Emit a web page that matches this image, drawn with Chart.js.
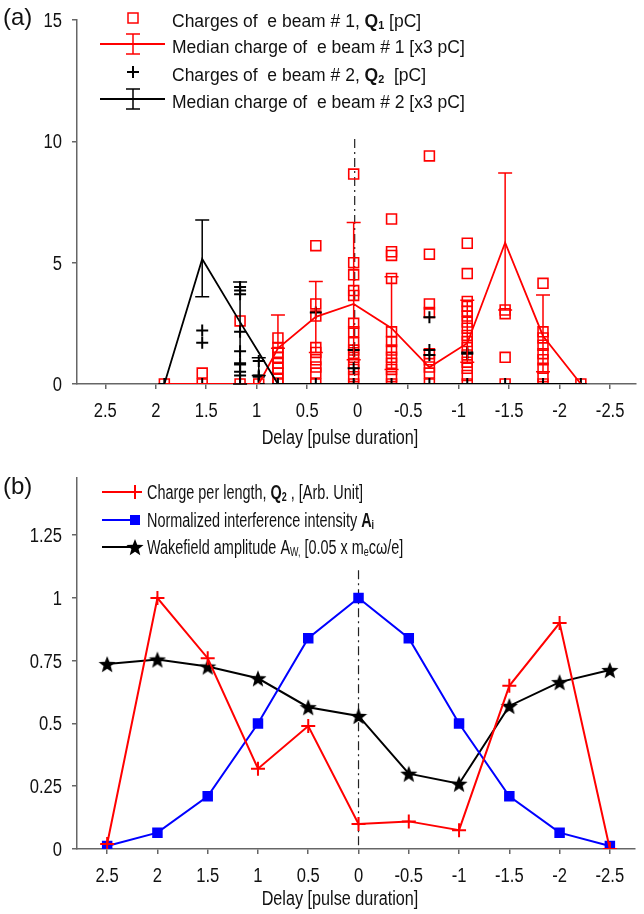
<!DOCTYPE html>
<html lang="en">
<head>
<meta charset="UTF-8">
<title>Charge and wakefield vs delay</title>
<script src="https://cdn.jsdelivr.net/npm/chart.js@4.4.0/dist/chart.umd.min.js"></script>
<style>
  body { margin: 0; background: #fff; }
  .panel { position: absolute; left: 0; width: 644px; }
  #pa { top: 0; height: 460px; }
  #pb { top: 460px; height: 454px; }
</style>
</head>
<body>
<div class="panel" id="pa"><canvas id="chartA"></canvas></div>
<div class="panel" id="pb"><canvas id="chartB"></canvas></div>
<script>
// ---- panel (a): shot clusters ----
const delayA = [1.915, 1.54, 1.165, 0.98, 0.79, 0.415, 0.04, -0.335, -0.71, -1.085, -1.46, -1.835, -2.21];
const q1 = [
  [0],
  [0.45, 0],
  [2.6, 0],
  [0],
  [1.9, 1.5, 1.3, 1.1, 0.85, 0.65, 0.45, 0.2, 0],
  [5.7, 3.3, 2.8, 1.5, 1.3, 1.0, 0.7, 0.45, 0],
  [8.65, 5.0, 4.5, 3.85, 3.65, 2.5, 2.15, 1.7, 1.4, 1.1, 0.85, 0.6, 0.3, 0],
  [6.8, 5.45, 5.3, 4.35, 2.15, 1.75, 1.4, 1.1, 0.85, 0.6, 0.3, 0],
  [9.4, 5.35, 3.3, 2.95, 1.25, 1.0, 0.7, 0.45, 0],
  [5.8, 4.55, 3.4, 3.2, 3.0, 2.8, 2.55, 2.3, 2.0, 1.75, 1.5, 1.2, 0.9, 0.65, 0.35, 0],
  [3.05, 2.9, 1.1, 0],
  [4.15, 2.15, 1.9, 1.6, 1.25, 1.0, 0.65, 0.3, 0],
  [0]
];
const q2 = [
  [0],
  [2.2, 1.7, 0],
  [4.0, 3.85, 3.7, 2.15, 1.35, 0.85, 0.8, 0.5, 0.35, 0],
  [0.95, 0.35, 0.3, 0],
  [0],
  [2.95, 0],
  [1.4, 0.65, 0],
  [0],
  [2.75, 1.4, 1.2, 0],
  [1.3, 1.25, 0],
  [0],
  [0],
  [0]
];
const med1   = [0, 0, 0, 0, 1.47, 2.77, 3.3, 2.3, 0.69, 1.68, 5.82, 1.98, 0];
const med1Lo = [null, null, null, null, 1.47, 1.3, 1.0, 0.6, null, 0.9, 3.05, 0.5, null];
const med1Hi = [null, null, null, null, 2.84, 4.22, 6.66, 4.42, null, 3.45, 8.7, 3.67, null];
const med2   = [0, 5.15, 2.55, 1.3, 0, 0, 0, 0, 0, 0, 0, 0, 0];
const med2Lo = [null, 3.6, 0, 0.35, null, null, null, null, null, null, null, null, null];
const med2Hi = [null, 6.76, 4.2, 1.08, null, null, null, null, null, null, null, null, null];
const xTicks  = [2.5, 2, 1.5, 1, 0.5, 0, -0.5, -1, -1.5, -2, -2.5];
const yTicksA = [0, 5, 10, 15];

// ---- panel (b) ----
const delayB    = [2.5, 2, 1.5, 1, 0.5, 0, -0.5, -1, -1.5, -2, -2.5];
const chargeLen = [0.02, 1.0, 0.76, 0.32, 0.49, 0.10, 0.11, 0.075, 0.65, 0.90, 0.0];
const interf    = [0.012, 0.065, 0.21, 0.50, 0.84, 1.0, 0.84, 0.50, 0.21, 0.065, 0.012];
const wake      = [0.737, 0.755, 0.727, 0.68, 0.565, 0.53, 0.30, 0.26, 0.57, 0.665, 0.713];
const yTicksB   = [0, 0.25, 0.5, 0.75, 1, 1.25];

const RED = '#ff0000', BLUE = '#0000ff', BLACK = '#000000', AXIS = '#666666';
const SANS = "'Liberation Sans', Arial, sans-serif";
const NARROW_X = 0.81;   // tick labels and axis titles are condensed in the figure

function pts(xs, ys) { return ys.map((y, i) => ({x: xs[i], y: y})); }
function flat(xs, groups) {
  const out = [];
  groups.forEach((g, i) => g.forEach(v => out.push({x: xs[i], y: v})));
  return out;
}

// text with bold / subscript pieces, squeezed horizontally by sx
function richText(ctx, x, base, parts, size, sx) {
  ctx.save();
  ctx.translate(x, base);
  ctx.scale(sx, 1);
  ctx.fillStyle = '#111';
  ctx.textBaseline = 'alphabetic';
  ctx.textAlign = 'left';
  let cx = 0;
  parts.forEach(p => {
    const fs = p.sub ? size * 0.62 : size;
    ctx.font = (p.b ? 'bold ' : '') + fs + 'px ' + SANS;
    ctx.fillText(p.t, cx, p.sub ? size * 0.12 : 0);
    cx += ctx.measureText(p.t).width;
  });
  ctx.restore();
}

function narrowText(ctx, text, x, base, align, size) {
  ctx.save();
  ctx.translate(x, base);
  ctx.scale(NARROW_X, 1);
  ctx.font = size + 'px ' + SANS;
  ctx.fillStyle = '#111';
  ctx.textAlign = align;
  ctx.textBaseline = 'alphabetic';
  ctx.fillText(text, 0, 0);
  ctx.restore();
}

function starImage(size) {
  const c = document.createElement('canvas');
  c.width = size; c.height = size;
  const g = c.getContext('2d');
  const cx = size / 2, cy = size / 2 + size * 0.05, R = size / 2, r = R * 0.42;
  g.fillStyle = BLACK;
  g.beginPath();
  for (let i = 0; i < 10; i++) {
    const a = -Math.PI / 2 + i * Math.PI / 5, rad = i % 2 ? r : R;
    g.lineTo(cx + rad * Math.cos(a), cy + rad * Math.sin(a));
  }
  g.closePath();
  g.fill();
  return c;
}
const STAR = starImage(18);

function drawMarker(ctx, kind, x, y, color) {
  ctx.save();
  ctx.strokeStyle = color; ctx.fillStyle = color;
  if (kind === 'sq') { ctx.lineWidth = 1.5; ctx.strokeRect(x - 5, y - 5, 10, 10); }
  if (kind === 'fsq') { ctx.fillRect(x - 5, y - 5, 10, 10); }
  if (kind === 'plus' || kind === 'plusb') {
    const h = kind === 'plus' ? 6 : 7;
    ctx.lineWidth = 2;
    ctx.beginPath();
    ctx.moveTo(x - h, y); ctx.lineTo(x + h, y);
    ctx.moveTo(x, y - h); ctx.lineTo(x, y + h);
    ctx.stroke();
  }
  if (kind === 'star') ctx.drawImage(STAR, x - 9, y - 9, 18, 18);
  ctx.restore();
}

function hline(ctx, x1, x2, y, color, w) {
  ctx.save();
  ctx.strokeStyle = color; ctx.lineWidth = w;
  ctx.beginPath(); ctx.moveTo(x1, y); ctx.lineTo(x2, y); ctx.stroke();
  ctx.restore();
}

function errSymbol(ctx, x, y, color) {
  ctx.save();
  ctx.strokeStyle = color; ctx.lineWidth = 1.5;
  ctx.beginPath();
  ctx.moveTo(x, y - 10); ctx.lineTo(x, y + 10);
  ctx.moveTo(x - 7, y - 10); ctx.lineTo(x + 7, y - 10);
  ctx.moveTo(x - 7, y + 10); ctx.lineTo(x + 7, y + 10);
  ctx.stroke();
  ctx.restore();
}

const errorBars = {
  id: 'errorBars',
  afterDatasetsDraw(chart) {
    const ctx = chart.ctx, xs = chart.scales.x, ys = chart.scales.y;
    chart.data.datasets.forEach(ds => {
      if (!ds.errLo) return;
      ctx.save();
      ctx.strokeStyle = ds.borderColor;
      ctx.lineWidth = 1.5;
      ds.data.forEach((p, j) => {
        const lo = ds.errLo[j], hi = ds.errHi[j];
        if (lo == null || hi == null) return;
        const x = xs.getPixelForValue(p.x);
        const y1 = ys.getPixelForValue(lo), y2 = ys.getPixelForValue(hi);
        ctx.beginPath();
        ctx.moveTo(x, y1); ctx.lineTo(x, y2);
        ctx.moveTo(x - 7, y1); ctx.lineTo(x + 7, y1);
        ctx.moveTo(x - 7, y2); ctx.lineTo(x + 7, y2);
        ctx.stroke();
      });
      ctx.restore();
    });
  }
};

// dash-dot guide at zero delay, below the data
const zeroLine = {
  id: 'zeroLine',
  beforeDatasetsDraw(chart, args, opts) {
    const ctx = chart.ctx, xs = chart.scales.x, ys = chart.scales.y;
    const x = xs.getPixelForValue(opts.at);
    ctx.save();
    ctx.strokeStyle = '#222';
    ctx.lineWidth = 1.2;
    ctx.setLineDash([9, 4, 2, 4]);
    ctx.beginPath();
    ctx.moveTo(x, ys.getPixelForValue(opts.top));
    ctx.lineTo(x, ys.getPixelForValue(0));
    ctx.stroke();
    ctx.restore();
  }
};

// tick labels, panel letter, axis title and legend
const decor = {
  id: 'decor',
  afterDraw(chart, args, opts) {
    const ctx = chart.ctx, ca = chart.chartArea;
    const xs = chart.scales.x, ys = chart.scales.y;
    xs.ticks.forEach(t => narrowText(ctx, String(t.value), xs.getPixelForValue(t.value), ca.bottom + 33, 'center', 20.5));
    ys.ticks.forEach(t => narrowText(ctx, String(t.value), 62, ys.getPixelForValue(t.value) + 7, 'right', 20.5));
    richText(ctx, 3, opts.letterY, [{t: opts.letter}], 24, 1);
    narrowText(ctx, 'Delay [pulse duration]', 340, ca.bottom + opts.titleDy, 'center', 20);
    opts.rows.forEach(r => {
      if (r.line) hline(ctx, r.x1, r.x2, r.y, r.color, 2);
      if (r.err) errSymbol(ctx, r.mx, r.y, r.color);
      if (r.marker) drawMarker(ctx, r.marker, r.mx, r.y, r.color);
      richText(ctx, opts.textX, r.y + opts.baseDy, r.text, opts.size, opts.sx);
    });
  }
};

function axes(o) {
  const grid = {drawOnChartArea: false, drawTicks: true, tickLength: 5, color: AXIS, lineWidth: 1.5};
  return {
    x: {
      type: 'linear', position: 'bottom', reverse: true, min: o.xmin, max: o.xmax,
      afterBuildTicks: s => { s.ticks = xTicks.map(v => ({value: v})); },
      afterFit: s => { s.height = o.xh; },
      grid: grid,
      border: {color: AXIS, width: 1.5},
      ticks: {display: false}
    },
    y: {
      type: 'linear', min: o.ymin, max: o.ymax,
      afterBuildTicks: s => { s.ticks = o.yTicks.map(v => ({value: v})); },
      afterFit: s => { s.width = 77; },
      grid: grid,
      border: {color: AXIS, width: 1.5},
      ticks: {display: false}
    }
  };
}

const q1Label = [{t: 'Charges of  e beam # 1, '}, {t: 'Q', b: true}, {t: '1', b: true, sub: true}, {t: ' [pC]'}];
const m1Label = [{t: 'Median charge of  e beam # 1 [x3 pC]'}];
const q2Label = [{t: 'Charges of  e beam # 2, '}, {t: 'Q', b: true}, {t: '2', b: true, sub: true}, {t: '  [pC]'}];
const m2Label = [{t: 'Median charge of  e beam # 2 [x3 pC]'}];

new Chart(document.getElementById('chartA'), {
  type: 'scatter',
  data: {
    datasets: [
      {label: 'Median charge of e beam # 2', data: pts(delayA, med2), errLo: med2Lo, errHi: med2Hi,
       showLine: true, borderColor: BLACK, borderWidth: 1.8, pointRadius: 0, order: 1},
      {label: 'Median charge of e beam # 1', data: pts(delayA, med1), errLo: med1Lo, errHi: med1Hi,
       showLine: true, borderColor: RED, borderWidth: 1.8, pointRadius: 0, order: 2},
      {label: 'Charges of e beam # 2', data: flat(delayA, q2), pointStyle: 'cross', pointRadius: 6,
       borderColor: BLACK, borderWidth: 2, backgroundColor: BLACK, order: 3},
      {label: 'Charges of e beam # 1', data: flat(delayA, q1), pointStyle: 'rect', pointRadius: 7,
       borderColor: RED, borderWidth: 1.6, backgroundColor: 'rgba(0,0,0,0)', order: 4}
    ]
  },
  options: {
    responsive: true, maintainAspectRatio: false, animation: false,
    layout: {padding: {top: 20, left: 0, right: 0, bottom: 0}},
    scales: axes({xmin: -2.75, xmax: 2.78, ymin: 0, ymax: 15, yTicks: yTicksA, xh: 76}),
    plugins: {
      legend: {display: false}, tooltip: {enabled: false},
      zeroLine: {at: 0.03, top: 10.1},
      decor: {
        letter: '(a)', letterY: 25, titleDy: 60, textX: 172, size: 17.5, sx: 1, baseDy: 9,
        rows: [
          {y: 18, mx: 133, marker: 'sq', color: RED, text: q1Label},
          {y: 44, x1: 100, x2: 165, mx: 133, line: true, err: true, color: RED, text: m1Label},
          {y: 72, mx: 133, marker: 'plus', color: BLACK, text: q2Label},
          {y: 99, x1: 100, x2: 165, mx: 133, line: true, err: true, color: BLACK, text: m2Label}
        ]
      }
    }
  },
  plugins: [zeroLine, errorBars, decor]
});

const cLabel = [{t: 'Charge per length, '}, {t: 'Q', b: true}, {t: '2', b: true, sub: true}, {t: ' , [Arb. Unit]'}];
const iLabel = [{t: 'Normalized interference intensity '}, {t: 'A', b: true}, {t: 'i', b: true, sub: true}];
const wLabel = [{t: 'Wakefield amplitude A'}, {t: 'W,', sub: true}, {t: ' [0.05 x m'}, {t: 'e', sub: true}, {t: 'c\u03c9/e]'}];

new Chart(document.getElementById('chartB'), {
  type: 'scatter',
  data: {
    datasets: [
      {label: 'Wakefield amplitude', data: pts(delayB, wake), showLine: true, borderColor: BLACK, borderWidth: 2,
       pointStyle: STAR, backgroundColor: BLACK, order: 3},
      {label: 'Charge per length', data: pts(delayB, chargeLen), showLine: true, borderColor: RED, borderWidth: 2,
       pointStyle: 'cross', pointRadius: 7, pointBorderWidth: 2, backgroundColor: RED, order: 1},
      {label: 'Normalized interference intensity', data: pts(delayB, interf), showLine: true, borderColor: BLUE,
       borderWidth: 2, pointStyle: 'rect', pointRadius: 6, backgroundColor: BLUE, order: 2}
    ]
  },
  options: {
    responsive: true, maintainAspectRatio: false, animation: false,
    layout: {padding: {top: 18, left: 0, right: 0, bottom: 0}},
    scales: axes({xmin: -2.75, xmax: 2.80, ymin: 0, ymax: 1.478, yTicks: yTicksB, xh: 65}),
    plugins: {
      legend: {display: false}, tooltip: {enabled: false},
      zeroLine: {at: 0, top: 1.11},
      decor: {
        letter: '(b)', letterY: 34, titleDy: 56, textX: 147, size: 19.5, sx: 0.74, baseDy: 7,
        rows: [
          {y: 32, x1: 102, x2: 140, mx: 135, line: true, marker: 'plusb', color: RED, text: cLabel},
          {y: 60, x1: 102, x2: 140, mx: 135, line: true, marker: 'fsq', color: BLUE, text: iLabel},
          {y: 87, x1: 102, x2: 140, mx: 135, line: true, marker: 'star', color: BLACK, text: wLabel}
        ]
      }
    }
  },
  plugins: [zeroLine, decor]
});
</script>
</body>
</html>
